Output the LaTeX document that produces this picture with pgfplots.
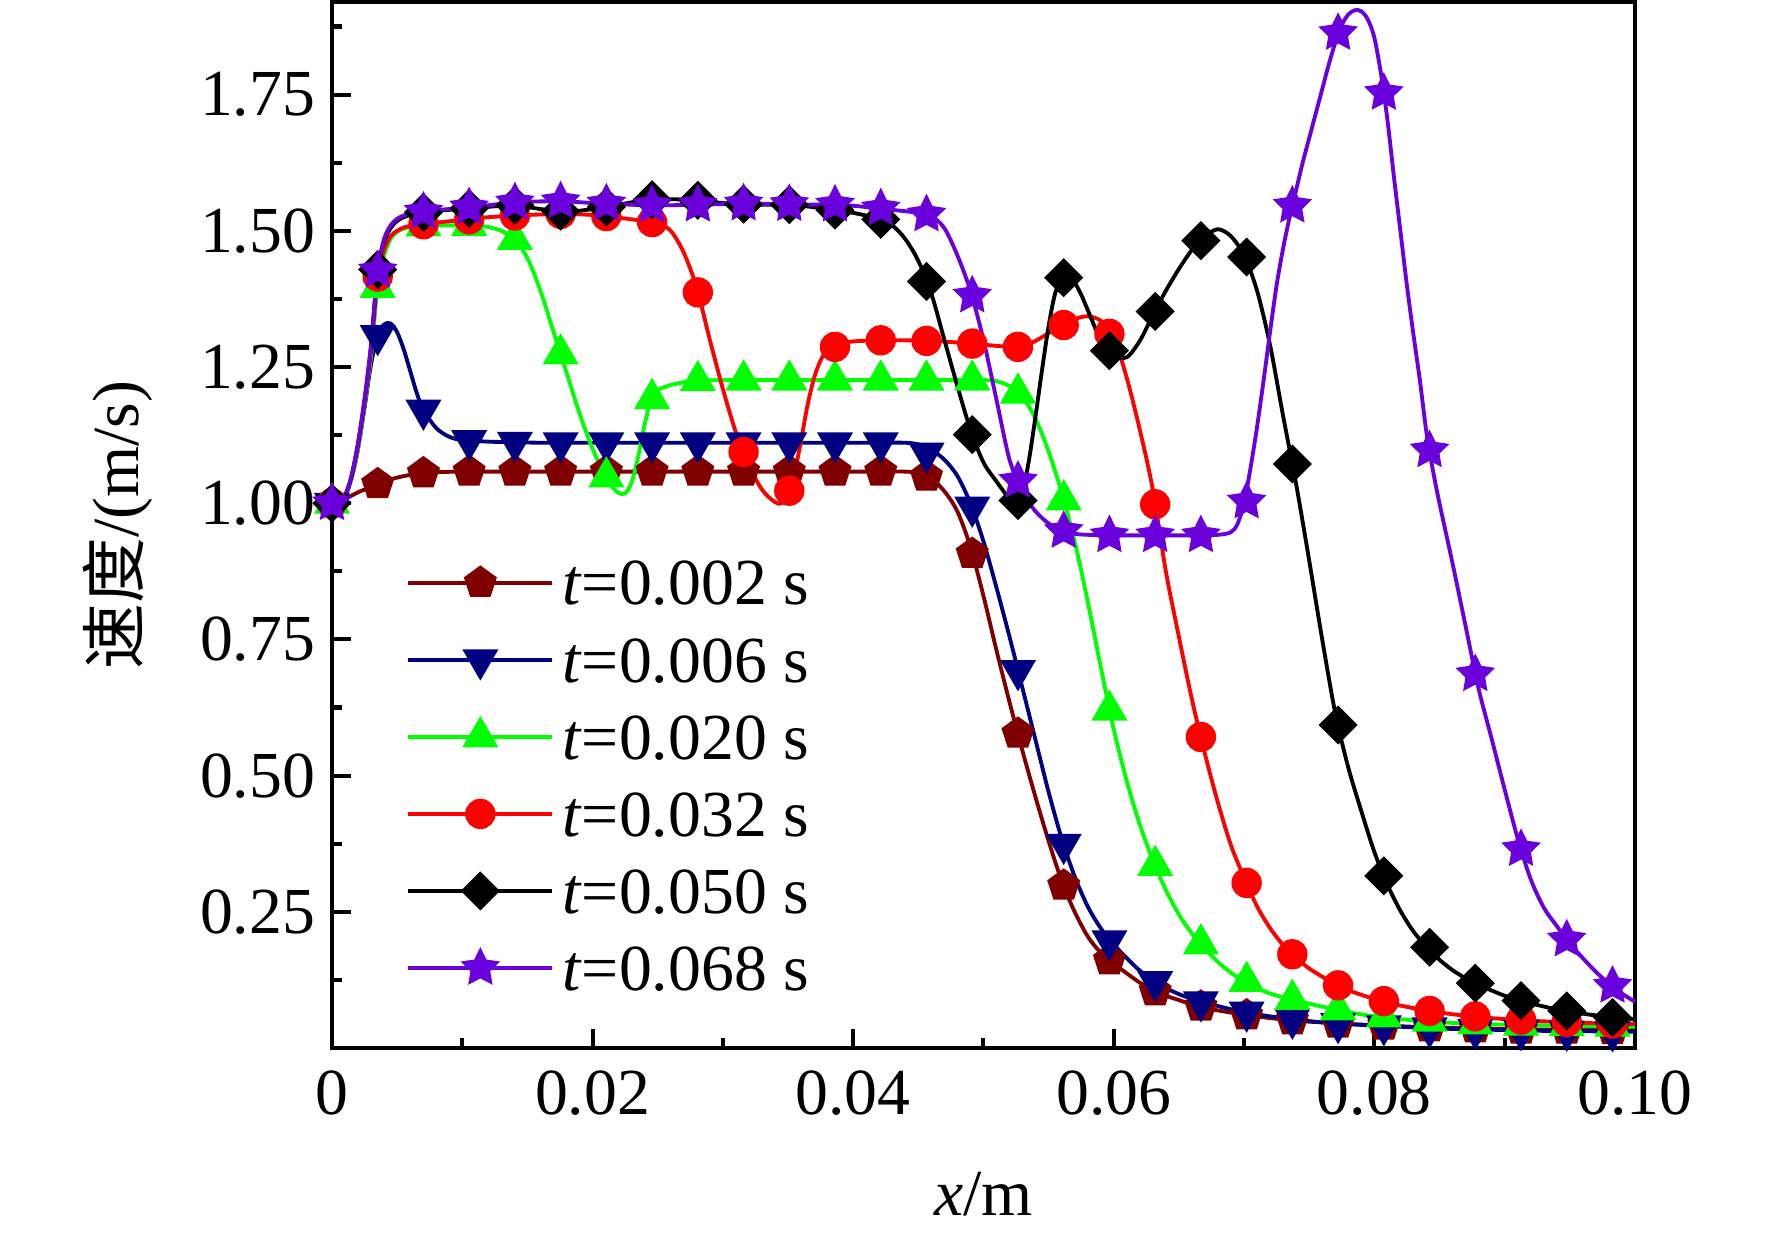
\documentclass[border=0pt]{standalone}
\usepackage{fontspec}
\setmainfont{Liberation Serif}
\newfontfamily\cjk{Noto Sans CJK SC}
\usepackage{pgfplots}
\pgfplotsset{compat=1.18}
\usetikzlibrary{plotmarks}
\definecolor{cA}{RGB}{128,0,0}
\definecolor{cB}{RGB}{0,0,128}
\definecolor{cC}{RGB}{0,255,0}
\definecolor{cD}{RGB}{255,0,0}
\definecolor{cE}{RGB}{0,0,0}
\definecolor{cF}{RGB}{106,0,220}
\pgfdeclareplotmark{fstar}{%
  \pgfpathmoveto{\pgfpointpolar{90}{\pgfplotmarksize}}%
  \pgfpathlineto{\pgfpointpolar{126}{0.5*\pgfplotmarksize}}%
  \pgfpathlineto{\pgfpointpolar{162}{\pgfplotmarksize}}%
  \pgfpathlineto{\pgfpointpolar{198}{0.5*\pgfplotmarksize}}%
  \pgfpathlineto{\pgfpointpolar{234}{\pgfplotmarksize}}%
  \pgfpathlineto{\pgfpointpolar{270}{0.5*\pgfplotmarksize}}%
  \pgfpathlineto{\pgfpointpolar{306}{\pgfplotmarksize}}%
  \pgfpathlineto{\pgfpointpolar{342}{0.5*\pgfplotmarksize}}%
  \pgfpathlineto{\pgfpointpolar{18}{\pgfplotmarksize}}%
  \pgfpathlineto{\pgfpointpolar{54}{0.5*\pgfplotmarksize}}%
  \pgfpathclose
  \pgfusepathqfillstroke}
\newcommand{\fs}{\fontsize{14.5}{17}\selectfont}
\begin{document}
\begin{tikzpicture}
\begin{axis}[
  name=ax,
  scale only axis,
  width=287.5pt, height=230.8pt,
  xmin=0, xmax=0.1, ymin=0, ymax=1.92,
  clip=false,
  axis line style={line width=0.9pt},
  tick pos=left, tick align=inside,
  major tick length=4.3pt, minor tick length=2.3pt,
  every tick/.style={black, line width=0.9pt},
  xtick={0,0.02,0.04,0.06,0.08,0.1},
  xticklabels={0,0.02,0.04,0.06,0.08,0.10},
  minor xtick={0.01,0.03,0.05,0.07,0.09},
  ytick={0.25,0.5,0.75,1,1.25,1.5,1.75},
  yticklabels={0.25,0.50,0.75,1.00,1.25,1.50,1.75},
  minor ytick={0.125,0.375,0.625,0.875,1.125,1.375,1.625,1.875},
  scaled x ticks=false, scaled y ticks=false,
  tick label style={font=\fs},
  xticklabel style={yshift=-1.5pt},
  yticklabel style={xshift=-0.2pt},
  legend cell align=left,
  legend style={draw=none, fill=none, font=\fs, inner sep=0pt, column sep=0.3pt,
    at={(rel axis cs:0.0565,0.4825)}, anchor=north west,
    nodes={inner sep=1.5pt, text height=11.9pt, text depth=2.1pt}},
]
% ---------- t = 0.002 ----------
\addplot[cA, line width=0.85pt, smooth, mark=none,
  legend image code/.code={\draw[cA,line width=0.85pt](0pt,0pt)--(31.75pt,0pt);\draw[cA,line width=0.7pt] plot[mark=pentagon*,mark size=3.4pt] coordinates{(15.875pt,0pt)};}]
coordinates {(0,1.000)(0.001,1.008)(0.002,1.020)(0.003,1.030)(0.004,1.040)(0.005,1.047)(0.006,1.052)(0.007,1.055)(0.008,1.057)(0.010,1.058)(0.012,1.058)(0.014,1.058)(0.016,1.058)(0.018,1.058)(0.020,1.058)(0.022,1.058)(0.024,1.058)(0.026,1.058)(0.028,1.058)(0.030,1.058)(0.032,1.058)(0.034,1.058)(0.036,1.058)(0.038,1.058)(0.040,1.058)(0.042,1.058)(0.044,1.058)(0.045,1.055)(0.046,1.045)(0.047,1.022)(0.048,0.985)(0.049,0.920)(0.050,0.830)(0.051,0.730)(0.052,0.635)(0.053,0.545)(0.054,0.460)(0.055,0.380)(0.056,0.307)(0.057,0.250)(0.058,0.205)(0.059,0.175)(0.060,0.155)(0.061,0.137)(0.062,0.120)(0.063,0.106)(0.064,0.096)(0.065,0.088)(0.066,0.080)(0.067,0.074)(0.068,0.069)(0.069,0.065)(0.070,0.061)(0.072,0.055)(0.074,0.050)(0.076,0.047)(0.078,0.044)(0.080,0.042)(0.082,0.040)(0.084,0.038)(0.086,0.037)(0.088,0.036)(0.090,0.035)(0.092,0.034)(0.094,0.034)(0.096,0.033)(0.098,0.033)(0.100,0.033)};
\addlegendentry{\textit{t}=0.002 s}
\addplot[cA, line width=0.7pt, only marks, mark=pentagon*, mark size=3.4pt, forget plot]
coordinates {(0,1.000)(0.00351,1.035)(0.00702,1.055)(0.01053,1.058)(0.01404,1.058)(0.01755,1.058)(0.02106,1.058)(0.02457,1.058)(0.02808,1.058)(0.03159,1.058)(0.0351,1.058)(0.03861,1.058)(0.04212,1.058)(0.04563,1.049)(0.04914,0.907)(0.05265,0.577)(0.05616,0.298)(0.05967,0.161)(0.06318,0.104)(0.06669,0.076)(0.0702,0.060)(0.07371,0.051)(0.07722,0.045)(0.08073,0.041)(0.08424,0.038)(0.08775,0.036)(0.09126,0.034)(0.09477,0.034)(0.09828,0.033)};
% ---------- t = 0.006 ----------
\addplot[cB, line width=0.85pt, smooth, mark=none,
  legend image code/.code={\draw[cB,line width=0.85pt](0pt,0pt)--(31.75pt,0pt);\draw[cB,line width=0.7pt] plot[mark=triangle*,mark size=3.9pt,mark options={rotate=180}] coordinates{(15.875pt,0pt)};}]
coordinates {(0,1.000)(0.0005,1.003)(0.001,1.015)(0.0015,1.045)(0.002,1.100)(0.0025,1.175)(0.003,1.255)(0.0035,1.308)(0.004,1.328)(0.0045,1.330)(0.005,1.314)(0.0055,1.283)(0.006,1.243)(0.0065,1.203)(0.007,1.172)(0.008,1.138)(0.009,1.122)(0.010,1.116)(0.012,1.113)(0.014,1.112)(0.016,1.111)(0.018,1.111)(0.020,1.111)(0.022,1.111)(0.024,1.111)(0.026,1.111)(0.028,1.111)(0.030,1.111)(0.032,1.111)(0.034,1.111)(0.036,1.111)(0.038,1.111)(0.040,1.111)(0.042,1.111)(0.044,1.111)(0.045,1.108)(0.046,1.098)(0.047,1.080)(0.048,1.050)(0.049,1.000)(0.050,0.930)(0.051,0.845)(0.052,0.755)(0.053,0.660)(0.054,0.565)(0.055,0.470)(0.056,0.385)(0.057,0.315)(0.058,0.260)(0.059,0.220)(0.060,0.190)(0.061,0.165)(0.062,0.142)(0.063,0.124)(0.064,0.110)(0.065,0.099)(0.066,0.090)(0.067,0.083)(0.068,0.077)(0.069,0.071)(0.070,0.066)(0.072,0.058)(0.074,0.052)(0.076,0.047)(0.078,0.044)(0.080,0.041)(0.082,0.039)(0.084,0.037)(0.086,0.035)(0.088,0.034)(0.090,0.033)(0.092,0.032)(0.094,0.031)(0.096,0.031)(0.098,0.030)(0.100,0.030)};
\addlegendentry{\textit{t}=0.006 s}
\addplot[cB, line width=0.7pt, only marks, mark=triangle*, mark size=3.9pt, mark options={rotate=180}, forget plot]
coordinates {(0,1.000)(0.00351,1.308)(0.00702,1.171)(0.01053,1.115)(0.01404,1.112)(0.01755,1.111)(0.02106,1.111)(0.02457,1.111)(0.02808,1.111)(0.03159,1.111)(0.0351,1.111)(0.03861,1.111)(0.04212,1.111)(0.04563,1.092)(0.04914,0.993)(0.05265,0.693)(0.05616,0.374)(0.05967,0.197)(0.06318,0.122)(0.06669,0.085)(0.0702,0.066)(0.07371,0.053)(0.07722,0.045)(0.08073,0.041)(0.08424,0.037)(0.08775,0.034)(0.09126,0.032)(0.09477,0.031)(0.09828,0.030)};
% ---------- t = 0.020 ----------
\addplot[cC, line width=0.85pt, smooth, mark=none,
  legend image code/.code={\draw[cC,line width=0.85pt](0pt,0pt)--(31.75pt,0pt);\draw[cC,line width=0.7pt] plot[mark=triangle*,mark size=3.9pt] coordinates{(15.875pt,0pt)};}]
coordinates {(0,1.000)(0.0005,1.003)(0.001,1.012)(0.0015,1.045)(0.002,1.100)(0.0025,1.180)(0.003,1.270)(0.0035,1.395)(0.004,1.455)(0.0045,1.485)(0.005,1.498)(0.0055,1.504)(0.006,1.507)(0.007,1.509)(0.008,1.510)(0.009,1.510)(0.010,1.510)(0.011,1.510)(0.012,1.507)(0.013,1.500)(0.014,1.485)(0.015,1.450)(0.016,1.390)(0.017,1.315)(0.018,1.240)(0.019,1.165)(0.020,1.100)(0.021,1.050)(0.0215,1.030)(0.022,1.019)(0.0225,1.018)(0.023,1.038)(0.0235,1.085)(0.024,1.145)(0.0245,1.190)(0.025,1.207)(0.0255,1.213)(0.026,1.217)(0.027,1.222)(0.028,1.225)(0.030,1.226)(0.032,1.226)(0.034,1.226)(0.036,1.226)(0.038,1.226)(0.040,1.226)(0.042,1.226)(0.044,1.226)(0.046,1.226)(0.048,1.226)(0.050,1.226)(0.051,1.224)(0.052,1.215)(0.053,1.195)(0.054,1.155)(0.055,1.095)(0.056,1.020)(0.057,0.930)(0.058,0.820)(0.059,0.700)(0.060,0.585)(0.061,0.490)(0.062,0.410)(0.063,0.345)(0.064,0.290)(0.065,0.245)(0.066,0.210)(0.067,0.182)(0.068,0.158)(0.069,0.138)(0.070,0.122)(0.071,0.110)(0.072,0.100)(0.073,0.093)(0.074,0.087)(0.076,0.076)(0.078,0.066)(0.080,0.058)(0.082,0.053)(0.084,0.049)(0.086,0.046)(0.088,0.044)(0.090,0.043)(0.092,0.042)(0.094,0.041)(0.096,0.040)(0.098,0.040)(0.100,0.039)};
\addlegendentry{\textit{t}=0.020 s}
\addplot[cC, line width=0.7pt, only marks, mark=triangle*, mark size=3.9pt, forget plot]
coordinates {(0,1.000)(0.00351,1.396)(0.00702,1.509)(0.01053,1.510)(0.01404,1.484)(0.01755,1.274)(0.02106,1.048)(0.02457,1.192)(0.02808,1.225)(0.03159,1.226)(0.0351,1.226)(0.03861,1.226)(0.04212,1.226)(0.04563,1.226)(0.04914,1.226)(0.05265,1.202)(0.05616,1.006)(0.05967,0.620)(0.06318,0.335)(0.06669,0.191)(0.0702,0.122)(0.07371,0.089)(0.07722,0.070)(0.08073,0.057)(0.08424,0.049)(0.08775,0.044)(0.09126,0.042)(0.09477,0.041)(0.09828,0.040)};
% ---------- t = 0.032 ----------
\addplot[cD, line width=0.85pt, smooth, mark=none,
  legend image code/.code={\draw[cD,line width=0.85pt](0pt,0pt)--(31.75pt,0pt);\draw[cD,line width=0.7pt] plot[mark=*,mark size=3.0pt] coordinates{(15.875pt,0pt)};}]
coordinates {(0,1.000)(0.0005,1.003)(0.001,1.013)(0.0015,1.048)(0.002,1.105)(0.0025,1.185)(0.003,1.280)(0.0035,1.415)(0.004,1.465)(0.0045,1.490)(0.005,1.500)(0.0055,1.506)(0.006,1.509)(0.007,1.512)(0.008,1.515)(0.010,1.520)(0.012,1.525)(0.014,1.528)(0.016,1.530)(0.018,1.531)(0.020,1.529)(0.022,1.524)(0.024,1.518)(0.025,1.514)(0.026,1.500)(0.027,1.460)(0.028,1.395)(0.029,1.300)(0.030,1.210)(0.031,1.130)(0.032,1.070)(0.033,1.025)(0.034,1.002)(0.0345,1.000)(0.035,1.015)(0.0355,1.055)(0.036,1.115)(0.0365,1.180)(0.037,1.230)(0.0375,1.262)(0.038,1.280)(0.039,1.292)(0.040,1.297)(0.042,1.299)(0.044,1.299)(0.046,1.298)(0.048,1.295)(0.050,1.291)(0.052,1.287)(0.053,1.288)(0.054,1.298)(0.055,1.312)(0.056,1.325)(0.057,1.338)(0.058,1.343)(0.059,1.335)(0.060,1.305)(0.061,1.230)(0.062,1.135)(0.063,1.025)(0.064,0.875)(0.065,0.755)(0.066,0.640)(0.067,0.540)(0.068,0.450)(0.069,0.372)(0.070,0.313)(0.071,0.260)(0.072,0.220)(0.073,0.189)(0.074,0.165)(0.075,0.146)(0.076,0.131)(0.077,0.117)(0.078,0.106)(0.080,0.090)(0.082,0.078)(0.084,0.069)(0.086,0.062)(0.088,0.057)(0.090,0.053)(0.092,0.050)(0.094,0.048)(0.096,0.046)(0.098,0.045)(0.100,0.044)};
\addlegendentry{\textit{t}=0.032 s}
\addplot[cD, line width=0.7pt, only marks, mark=*, mark size=3.0pt, forget plot]
coordinates {(0,1.000)(0.00351,1.416)(0.00702,1.512)(0.01053,1.521)(0.01404,1.528)(0.01755,1.531)(0.02106,1.527)(0.02457,1.516)(0.02808,1.387)(0.03159,1.094)(0.0351,1.023)(0.03861,1.287)(0.04212,1.299)(0.04563,1.298)(0.04914,1.293)(0.05265,1.287)(0.05616,1.327)(0.05967,1.311)(0.06318,0.998)(0.06669,0.571)(0.0702,0.303)(0.07371,0.172)(0.07722,0.115)(0.08073,0.086)(0.08424,0.068)(0.08775,0.058)(0.09126,0.052)(0.09477,0.048)(0.09828,0.045)};
% ---------- t = 0.050 ----------
\addplot[cE, line width=0.85pt, smooth, mark=none,
  legend image code/.code={\draw[cE,line width=0.85pt](0pt,0pt)--(31.75pt,0pt);\draw[cE,line width=0.7pt] plot[mark=square*,mark size=2.7pt,mark options={rotate=45}] coordinates{(15.875pt,0pt)};}]
coordinates {(0,1.000)(0.0005,1.003)(0.001,1.013)(0.0015,1.050)(0.002,1.110)(0.0025,1.190)(0.003,1.290)(0.0035,1.428)(0.004,1.480)(0.0045,1.505)(0.005,1.518)(0.0055,1.525)(0.006,1.529)(0.007,1.534)(0.008,1.537)(0.010,1.540)(0.012,1.544)(0.014,1.547)(0.016,1.540)(0.018,1.535)(0.020,1.540)(0.022,1.548)(0.024,1.556)(0.026,1.558)(0.028,1.556)(0.030,1.551)(0.032,1.548)(0.034,1.548)(0.036,1.546)(0.038,1.540)(0.040,1.533)(0.042,1.522)(0.043,1.510)(0.044,1.485)(0.045,1.445)(0.046,1.385)(0.047,1.300)(0.048,1.215)(0.049,1.135)(0.050,1.075)(0.051,1.040)(0.052,1.008)(0.0525,1.000)(0.053,1.020)(0.0535,1.080)(0.054,1.160)(0.0545,1.245)(0.055,1.325)(0.0555,1.385)(0.056,1.412)(0.0565,1.418)(0.057,1.405)(0.0575,1.383)(0.058,1.355)(0.059,1.300)(0.060,1.272)(0.061,1.268)(0.062,1.298)(0.063,1.345)(0.064,1.390)(0.065,1.430)(0.066,1.465)(0.067,1.490)(0.068,1.503)(0.069,1.490)(0.070,1.455)(0.071,1.390)(0.072,1.290)(0.073,1.160)(0.074,1.035)(0.075,0.895)(0.076,0.750)(0.077,0.615)(0.078,0.515)(0.079,0.435)(0.080,0.360)(0.081,0.300)(0.082,0.252)(0.083,0.214)(0.084,0.186)(0.085,0.162)(0.086,0.143)(0.087,0.128)(0.088,0.116)(0.090,0.096)(0.092,0.082)(0.094,0.071)(0.096,0.063)(0.098,0.057)(0.100,0.053)};
\addlegendentry{\textit{t}=0.050 s}
\addplot[cE, line width=0.7pt, only marks, mark=square*, mark size=2.7pt, mark options={rotate=45}, forget plot]
coordinates {(0,1.000)(0.00351,1.429)(0.00702,1.534)(0.01053,1.541)(0.01404,1.547)(0.01755,1.536)(0.02106,1.544)(0.02457,1.557)(0.02808,1.556)(0.03159,1.549)(0.0351,1.548)(0.03861,1.538)(0.04212,1.521)(0.04563,1.407)(0.04914,1.126)(0.05265,1.005)(0.05616,1.414)(0.05967,1.280)(0.06318,1.352)(0.06669,1.482)(0.0702,1.452)(0.07371,1.072)(0.07722,0.593)(0.08073,0.316)(0.08424,0.185)(0.08775,0.119)(0.09126,0.087)(0.09477,0.068)(0.09828,0.056)};
% ---------- t = 0.068 ----------
\addplot[cF, line width=0.85pt, smooth, mark=none,
  legend image code/.code={\draw[cF,line width=0.85pt](0pt,0pt)--(31.75pt,0pt);\draw[cF,line width=0.7pt] plot[mark=fstar,mark size=3.8pt] coordinates{(15.875pt,0pt)};}]
coordinates {(0,1.000)(0.0005,1.003)(0.001,1.013)(0.0015,1.050)(0.002,1.110)(0.0025,1.190)(0.003,1.290)(0.0035,1.426)(0.004,1.485)(0.0045,1.510)(0.005,1.522)(0.0055,1.528)(0.006,1.531)(0.007,1.535)(0.008,1.538)(0.010,1.542)(0.012,1.547)(0.014,1.552)(0.016,1.554)(0.018,1.554)(0.020,1.551)(0.022,1.549)(0.024,1.547)(0.026,1.547)(0.028,1.548)(0.030,1.549)(0.032,1.550)(0.034,1.549)(0.036,1.548)(0.038,1.548)(0.040,1.546)(0.042,1.541)(0.044,1.536)(0.045,1.533)(0.046,1.527)(0.047,1.505)(0.048,1.455)(0.049,1.390)(0.050,1.300)(0.051,1.190)(0.052,1.080)(0.053,1.020)(0.054,0.985)(0.055,0.963)(0.056,0.950)(0.057,0.944)(0.058,0.942)(0.060,0.941)(0.062,0.941)(0.064,0.941)(0.066,0.941)(0.068,0.942)(0.069,0.947)(0.0695,0.962)(0.070,1.000)(0.0705,1.065)(0.071,1.140)(0.0715,1.225)(0.072,1.315)(0.0725,1.400)(0.073,1.468)(0.0735,1.525)(0.074,1.575)(0.0745,1.625)(0.075,1.670)(0.0755,1.715)(0.076,1.760)(0.0765,1.805)(0.077,1.845)(0.0775,1.878)(0.078,1.897)(0.0785,1.905)(0.079,1.903)(0.0795,1.888)(0.080,1.855)(0.0805,1.790)(0.081,1.705)(0.0815,1.600)(0.082,1.500)(0.0825,1.400)(0.083,1.310)(0.0835,1.225)(0.084,1.130)(0.0845,1.060)(0.085,1.000)(0.086,0.890)(0.087,0.775)(0.088,0.660)(0.089,0.568)(0.090,0.475)(0.091,0.385)(0.092,0.310)(0.093,0.258)(0.094,0.224)(0.095,0.192)(0.096,0.165)(0.097,0.140)(0.098,0.118)(0.099,0.100)(0.100,0.085)};
\addlegendentry{\textit{t}=0.068 s}
\addplot[cF, line width=0.7pt, only marks, mark=fstar, mark size=3.8pt, forget plot]
coordinates {(0,1.000)(0.00351,1.427)(0.00702,1.535)(0.01053,1.543)(0.01404,1.552)(0.01755,1.554)(0.02106,1.550)(0.02457,1.547)(0.02808,1.548)(0.03159,1.550)(0.0351,1.549)(0.03861,1.548)(0.04212,1.541)(0.04563,1.530)(0.04914,1.381)(0.05265,1.041)(0.05616,0.949)(0.05967,0.941)(0.06318,0.941)(0.06669,0.941)(0.0702,1.003)(0.07371,1.546)(0.07722,1.863)(0.08073,1.753)(0.08424,1.097)(0.08775,0.686)(0.09126,0.365)(0.09477,0.199)(0.09828,0.114)};
\end{axis}
\coordinate (yl) at ([xshift=-42.75pt]ax.west);
\coordinate (xl) at ([yshift=-36.85pt]ax.south);
\node[rotate=90, anchor=base, font=\fs, inner sep=0pt] at (yl) {{\cjk 速度}/(m/s)};
\node[anchor=base, font=\fs, inner sep=0pt] at (xl) {\textit{x}/m};
\pgfresetboundingbox
\path ([xshift=-73.25pt,yshift=-41.5pt]ax.south west) rectangle ([xshift=30.25pt,yshift=0.45pt]ax.north east);
\end{tikzpicture}
\end{document}
